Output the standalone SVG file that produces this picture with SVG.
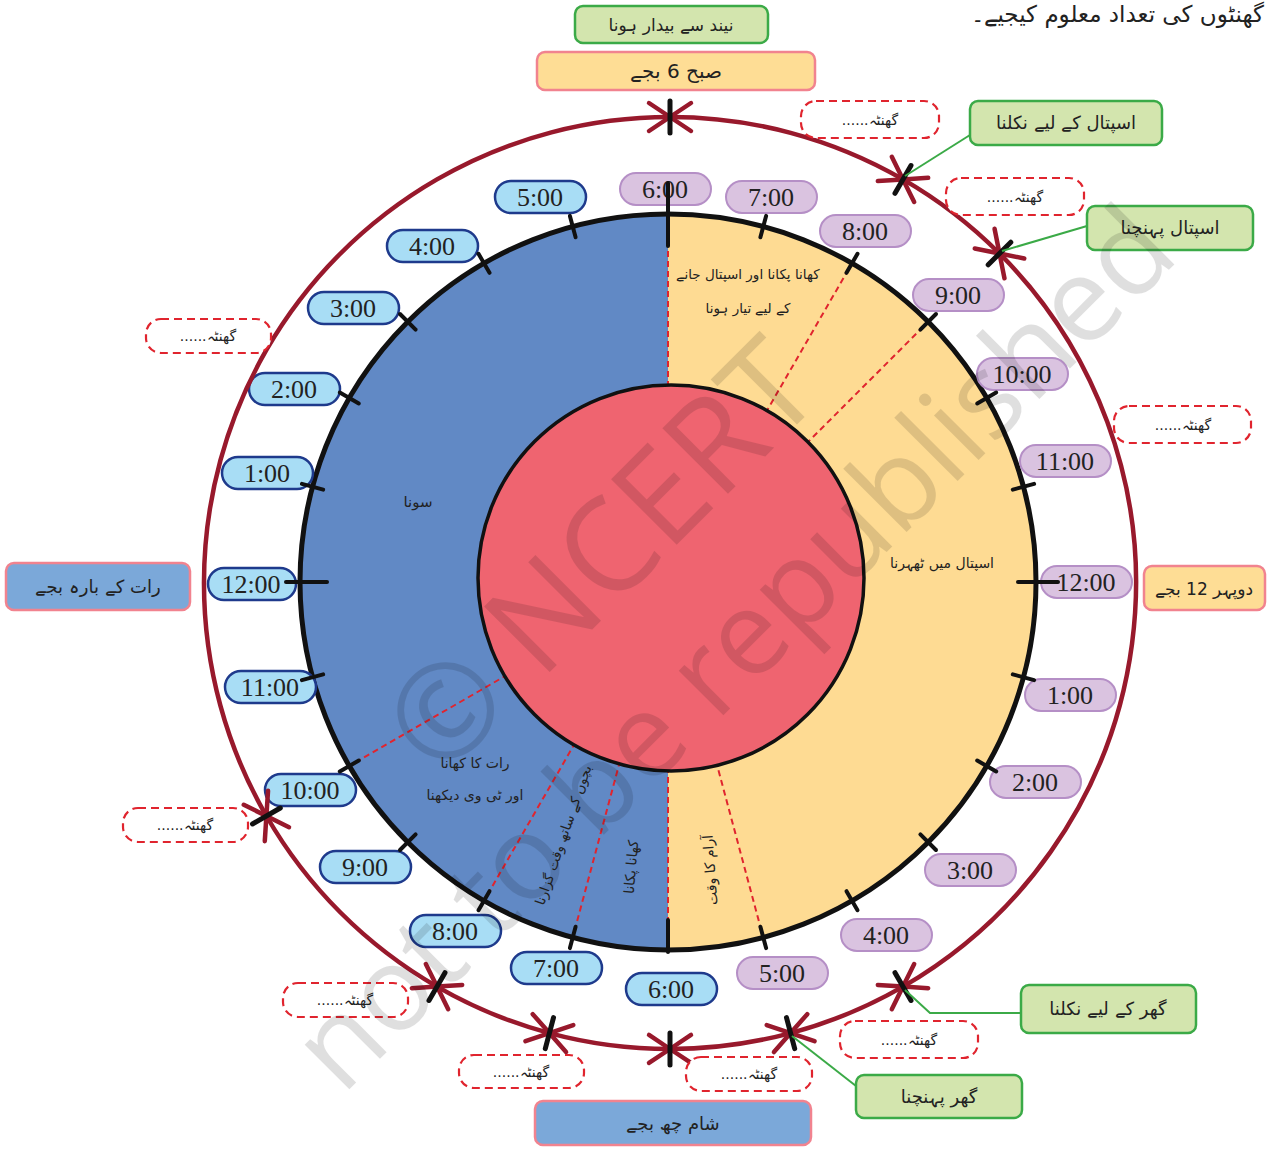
<svg xmlns="http://www.w3.org/2000/svg" width="1269" height="1150" viewBox="0 0 1269 1150">
<style>
.ur{font-family:'DejaVu Sans',sans-serif;fill:#222;text-anchor:middle}
.num{font-family:'Liberation Serif',serif;font-size:26px;fill:#222;text-anchor:middle}
.pl rect{fill:#DAC3E0;stroke:#B58FC6;stroke-width:2}
.bl rect{fill:#A8DDF5;stroke:#1E3A8C;stroke-width:2.5}
.gr rect{fill:#D3E5AE;stroke:#3BAA47;stroke-width:2.5}
.og rect{fill:#FEDD95;stroke:#F1838F;stroke-width:2.5}
.bb rect{fill:#7BA8D9;stroke:#F1838F;stroke-width:2.5}
.db rect{fill:#fff;stroke:#E0242E;stroke-width:2.2;stroke-dasharray:8 5}
.tick{stroke:#111;stroke-width:4;stroke-linecap:round}
.ntick{stroke:#111;stroke-width:5;stroke-linecap:round}
.div{stroke:#E0242E;stroke-width:2;stroke-dasharray:6 4}
.arc{fill:none;stroke:#98192C;stroke-width:4.5;marker-start:url(#ah);marker-end:url(#ah)}
.gl{fill:none;stroke:#3BAA47;stroke-width:2}
.wm{font-family:'Open Sans',sans-serif;fill:#000;opacity:0.12;text-anchor:middle}
</style>
<defs>
<marker id="ah" viewBox="-26 -18 30 36" refX="0" refY="0" markerWidth="30" markerHeight="36" markerUnits="userSpaceOnUse" orient="auto-start-reverse">
<path d="M-21,-14 L0,0 L-21,14" fill="none" stroke="#98192C" stroke-width="4.5" stroke-linecap="round" stroke-linejoin="round"/>
</marker>
</defs>
<rect width="1269" height="1150" fill="#fff"/>

<text class="ur" x="1264" y="22" style="text-anchor:end;font-size:23px">گھنٹوں کی تعداد معلوم کیجیے۔</text>

<g id="clock">
<circle cx="668" cy="582" r="368" fill="#6189C5"/>
<path d="M668,214 A368,368 0 0 1 668,950 Z" fill="#FEDB93"/>
<g id="dividers">
<line class="div" x1="668" y1="397" x2="668" y2="216"/>
<line class="div" x1="760.5" y1="421.8" x2="851" y2="265"/>
<line class="div" x1="798.8" y1="451.2" x2="926.8" y2="323.2"/>
<line class="div" x1="715.9" y1="760.7" x2="762.7" y2="935.5"/>
<line class="div" x1="668" y1="767" x2="668" y2="948"/>
<line class="div" x1="620.1" y1="760.7" x2="573.3" y2="935.5"/>
<line class="div" x1="575.5" y1="742.2" x2="485" y2="899"/>
<line class="div" x1="507.8" y1="674.5" x2="351" y2="765"/>
</g>
<circle cx="668" cy="582" r="368" fill="none" stroke="#111" stroke-width="5"/>
<circle cx="671" cy="578" r="193" fill="#EF6470" stroke="#111" stroke-width="3.5"/>
</g>

<g id="activities">
<text class="ur" x="748" y="279" font-size="13.5">کھانا پکانا اور اسپتال جانے</text>
<text class="ur" x="748" y="313" font-size="13.5">کے لیے تیار ہونا</text>
<text class="ur" x="942" y="568" font-size="14">اسپتال میں ٹھہرنا</text>
<text class="ur" x="418" y="507" font-size="15">سونا</text>
<text class="ur" x="475" y="768" font-size="14">رات کا کھانا</text>
<text class="ur" x="475" y="800" font-size="14">اور ٹی وی دیکھنا</text>
<text class="ur" font-size="13.5" transform="translate(563,835) rotate(-71)" y="5">بچوں کے ساتھ وقت گزارنا</text>
<text class="ur" font-size="14" transform="translate(631,867) rotate(-85)" y="5">کھانا پکانا</text>
<text class="ur" font-size="14" transform="translate(710,870) rotate(-94)" y="5">آرام کا وقت</text>
</g>

<g id="hour-labels">
<g id="h06am" class="pl"><rect x="620" y="173" width="91" height="32" rx="16"/><text class="num" x="665" y="198">6:00</text></g>
<g id="h07am" class="pl"><rect x="726" y="181" width="91" height="32" rx="16"/><text class="num" x="771" y="206">7:00</text></g>
<g id="h08am" class="pl"><rect x="820" y="215" width="91" height="32" rx="16"/><text class="num" x="865" y="240">8:00</text></g>
<g id="h09am" class="pl"><rect x="913" y="279" width="91" height="32" rx="16"/><text class="num" x="958" y="304">9:00</text></g>
<g id="h10am" class="pl"><rect x="977" y="358" width="91" height="32" rx="16"/><text class="num" x="1022" y="383">10:00</text></g>
<g id="h11am" class="pl"><rect x="1020" y="445" width="91" height="32" rx="16"/><text class="num" x="1065" y="470">11:00</text></g>
<g id="h12pm" class="pl"><rect x="1041" y="566" width="91" height="32" rx="16"/><text class="num" x="1086" y="591">12:00</text></g>
<g id="h01pm" class="pl"><rect x="1025" y="679" width="91" height="32" rx="16"/><text class="num" x="1070" y="704">1:00</text></g>
<g id="h02pm" class="pl"><rect x="990" y="766" width="91" height="32" rx="16"/><text class="num" x="1035" y="791">2:00</text></g>
<g id="h03pm" class="pl"><rect x="925" y="854" width="91" height="32" rx="16"/><text class="num" x="970" y="879">3:00</text></g>
<g id="h04pm" class="pl"><rect x="841" y="919" width="91" height="32" rx="16"/><text class="num" x="886" y="944">4:00</text></g>
<g id="h05pm" class="pl"><rect x="737" y="957" width="91" height="32" rx="16"/><text class="num" x="782" y="982">5:00</text></g>
<g id="h06pm" class="bl"><rect x="626" y="973" width="91" height="32" rx="16"/><text class="num" x="671" y="998">6:00</text></g>
<g id="h07pm" class="bl"><rect x="511" y="952" width="91" height="32" rx="16"/><text class="num" x="556" y="977">7:00</text></g>
<g id="h08pm" class="bl"><rect x="410" y="915" width="91" height="32" rx="16"/><text class="num" x="455" y="940">8:00</text></g>
<g id="h09pm" class="bl"><rect x="320" y="851" width="91" height="32" rx="16"/><text class="num" x="365" y="876">9:00</text></g>
<g id="h10pm" class="bl"><rect x="265" y="774" width="91" height="32" rx="16"/><text class="num" x="310" y="799">10:00</text></g>
<g id="h11pm" class="bl"><rect x="225" y="671" width="91" height="32" rx="16"/><text class="num" x="270" y="696">11:00</text></g>
<g id="h12am" class="bl"><rect x="208" y="568" width="88" height="32" rx="16"/><text class="num" x="251" y="593">12:00</text></g>
<g id="h01am" class="bl"><rect x="222" y="457" width="91" height="32" rx="16"/><text class="num" x="267" y="482">1:00</text></g>
<g id="h02am" class="bl"><rect x="249" y="373" width="91" height="32" rx="16"/><text class="num" x="294" y="398">2:00</text></g>
<g id="h03am" class="bl"><rect x="308" y="292" width="91" height="32" rx="16"/><text class="num" x="353" y="317">3:00</text></g>
<g id="h04am" class="bl"><rect x="387" y="230" width="91" height="32" rx="16"/><text class="num" x="432" y="255">4:00</text></g>
<g id="h05am" class="bl"><rect x="495" y="181" width="91" height="32" rx="16"/><text class="num" x="540" y="206">5:00</text></g>
</g>

<g id="hour-ticks">
<line class="tick" x1="668" y1="246" x2="668" y2="183"/>
<line class="tick" x1="760.4" y1="237.2" x2="766.1" y2="215.9"/>
<line class="tick" x1="846.5" y1="272.8" x2="857.5" y2="253.8"/>
<line class="tick" x1="920.4" y1="329.6" x2="936" y2="314"/>
<line class="tick" x1="977.2" y1="403.5" x2="996.2" y2="392.5"/>
<line class="tick" x1="1012.8" y1="489.6" x2="1034.1" y2="483.9"/>
<line class="tick" x1="1018" y1="582" x2="1058" y2="582"/>
<line class="tick" x1="1012.8" y1="674.4" x2="1034.1" y2="680.1"/>
<line class="tick" x1="977.2" y1="760.5" x2="996.2" y2="771.5"/>
<line class="tick" x1="920.4" y1="834.4" x2="936" y2="850"/>
<line class="tick" x1="846.5" y1="891.2" x2="857.5" y2="910.2"/>
<line class="tick" x1="760.4" y1="926.8" x2="766.1" y2="948.1"/>
<line class="tick" x1="668" y1="920" x2="668" y2="952"/>
<line class="tick" x1="575.6" y1="926.8" x2="569.9" y2="948.1"/>
<line class="tick" x1="489.5" y1="891.2" x2="478.5" y2="910.2"/>
<line class="tick" x1="415.6" y1="834.4" x2="400" y2="850"/>
<line class="tick" x1="358.8" y1="760.5" x2="339.8" y2="771.5"/>
<line class="tick" x1="323.2" y1="674.4" x2="301.9" y2="680.1"/>
<line class="tick" x1="327" y1="582" x2="286" y2="582"/>
<line class="tick" x1="323.2" y1="489.6" x2="301.9" y2="483.9"/>
<line class="tick" x1="358.8" y1="403.5" x2="339.8" y2="392.5"/>
<line class="tick" x1="415.6" y1="329.6" x2="400" y2="314"/>
<line class="tick" x1="489.5" y1="272.8" x2="478.5" y2="253.8"/>
<line class="tick" x1="575.6" y1="237.2" x2="569.9" y2="215.9"/>
</g>

<g id="connectors">
<path class="arc" d="M670,117 A466,466 0 0 1 903,179.4"/>
<path class="arc" d="M903,179.4 A466,466 0 0 1 999.5,253.5"/>
<path class="arc" d="M999.5,253.5 A466,466 0 0 1 903,986.6"/>
<path class="arc" d="M903,986.6 A466,466 0 0 1 790.6,1033.1"/>
<path class="arc" d="M790.6,1033.1 A466,466 0 0 1 670,1049"/>
<path class="arc" d="M670,1049 A466,466 0 0 1 549.4,1033.1"/>
<path class="arc" d="M549.4,1033.1 A466,466 0 0 1 437,986.6"/>
<path class="arc" d="M437,986.6 A466,466 0 0 1 266.4,816"/>
<path class="arc" d="M266.4,816 A466,466 0 0 1 670,117"/>
<line class="ntick" x1="670" y1="101" x2="670" y2="133"/>
<line class="ntick" x1="895" y1="193.3" x2="911" y2="165.5"/>
<line class="ntick" x1="988.2" y1="264.8" x2="1010.8" y2="242.2"/>
<line class="ntick" x1="895" y1="972.7" x2="911" y2="1000.5"/>
<line class="ntick" x1="786.5" y1="1017.6" x2="794.7" y2="1048.6"/>
<line class="ntick" x1="670" y1="1033" x2="670" y2="1065"/>
<line class="ntick" x1="553.5" y1="1017.6" x2="545.3" y2="1048.6"/>
<line class="ntick" x1="445" y1="972.7" x2="429" y2="1000.5"/>
<line class="ntick" x1="280.3" y1="808" x2="252.5" y2="824"/>
<polyline class="gl" points="905,176 970,135"/>
<polyline class="gl" points="1002,251 1087,226"/>
<polyline class="gl" points="905,990 930,1013 1021,1013"/>
<polyline class="gl" points="792,1036 856,1086"/>
</g>

<g id="wake" class="gr"><rect x="575" y="6" width="193" height="37" rx="8"/><text class="ur" x="671" y="31" font-size="17">نیند سے بیدار ہونا</text></g>
<g id="am6" class="og"><rect x="537" y="52" width="278" height="38" rx="8"/><text class="ur" x="676" y="78" font-size="20">صبح 6 بجے</text></g>
<g id="leave-hospital" class="gr"><rect x="970" y="101" width="192" height="44" rx="8"/><text class="ur" x="1066" y="129" font-size="18">اسپتال کے لیے نکلنا</text></g>
<g id="reach-hospital" class="gr"><rect x="1087" y="206" width="166" height="44" rx="8"/><text class="ur" x="1170" y="234" font-size="18">اسپتال پہنچنا</text></g>
<g id="noon" class="og"><rect x="1144" y="566" width="121" height="44" rx="8"/><text class="ur" x="1204" y="595" font-size="17">دوپہر 12 بجے</text></g>
<g id="midnight" class="bb"><rect x="6" y="563" width="184" height="47" rx="8"/><text class="ur" x="98" y="593" font-size="18">رات کے بارہ بجے</text></g>
<g id="pm6" class="bb"><rect x="535" y="1101" width="276" height="44" rx="8"/><text class="ur" x="673" y="1130" font-size="18">شام چھ بجے</text></g>
<g id="leave-home" class="gr"><rect x="1021" y="985" width="175" height="48" rx="8"/><text class="ur" x="1108" y="1015" font-size="18">گھر کے لیے نکلنا</text></g>
<g id="reach-home" class="gr"><rect x="856" y="1075" width="166" height="43" rx="8"/><text class="ur" x="939" y="1103" font-size="18">گھر پہنچنا</text></g>

<g id="durations">
<g id="d1" class="db"><rect x="801" y="101" width="138" height="37" rx="15"/><text class="ur" x="870" y="125" font-size="14" direction="rtl">گھنٹہ......</text></g>
<g id="d2" class="db"><rect x="946" y="178" width="138" height="37" rx="15"/><text class="ur" x="1015" y="202" font-size="14" direction="rtl">گھنٹہ......</text></g>
<g id="d3" class="db"><rect x="1114" y="406" width="137" height="37" rx="15"/><text class="ur" x="1183" y="430" font-size="14" direction="rtl">گھنٹہ......</text></g>
<g id="d4" class="db"><rect x="840" y="1021" width="138" height="37" rx="15"/><text class="ur" x="909" y="1045" font-size="14" direction="rtl">گھنٹہ......</text></g>
<g id="d5" class="db"><rect x="686" y="1057" width="126" height="34" rx="15"/><text class="ur" x="749" y="1079" font-size="14" direction="rtl">گھنٹہ......</text></g>
<g id="d6" class="db"><rect x="459" y="1055" width="125" height="33" rx="15"/><text class="ur" x="521" y="1077" font-size="14" direction="rtl">گھنٹہ......</text></g>
<g id="d7" class="db"><rect x="283" y="983" width="125" height="34" rx="15"/><text class="ur" x="345" y="1005" font-size="14" direction="rtl">گھنٹہ......</text></g>
<g id="d8" class="db"><rect x="123" y="808" width="125" height="34" rx="15"/><text class="ur" x="185" y="830" font-size="14" direction="rtl">گھنٹہ......</text></g>
<g id="d9" class="db"><rect x="146" y="319" width="125" height="34" rx="15"/><text class="ur" x="208" y="341" font-size="14" direction="rtl">گھنٹہ......</text></g>
</g>

<g id="watermark">
<text class="wm" x="605" y="600" font-size="130" transform="rotate(-45 605 560)">© NCERT</text>
<text class="wm" x="735" y="688" font-size="118" transform="rotate(-45 735 650)">not to be republished</text>
</g>
</svg>
